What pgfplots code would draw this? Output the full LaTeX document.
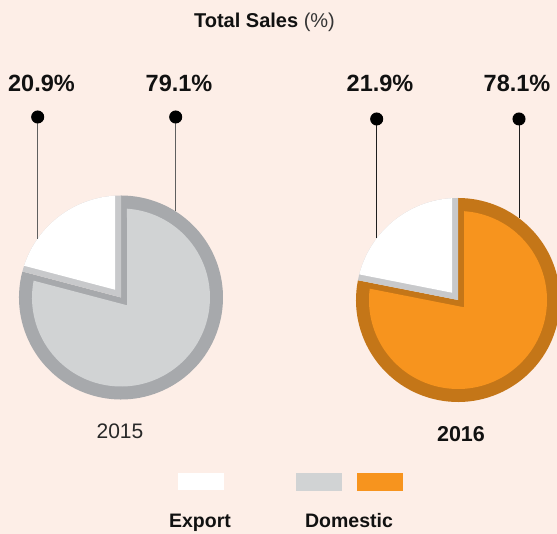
\documentclass[border=0pt]{standalone}
\usepackage{pgfplots}
\usepackage{pgfplotstable}
\pgfplotsset{compat=1.18}
\usepackage{fontspec}
\setmainfont{Liberation Sans}
\definecolor{bg}{RGB}{253,238,231}
\definecolor{grayfill}{RGB}{209,211,212}
\definecolor{grayborder}{RGB}{167,169,172}
\definecolor{band}{RGB}{200,201,203}
\definecolor{orangefill}{RGB}{247,148,30}
\definecolor{orangeborder}{RGB}{196,118,24}
\definecolor{txt}{RGB}{17,17,17}
\newcommand\fs[1]{\fontsize{#1}{#1}\selectfont}

\pgfplotstableread{
year export domestic
2015 20.9 79.1
2016 21.9 78.1
}\salesdata
\pgfplotstablegetelem{0}{export}\of\salesdata \let\expA\pgfplotsretval
\pgfplotstablegetelem{0}{domestic}\of\salesdata \let\domA\pgfplotsretval
\pgfplotstablegetelem{1}{export}\of\salesdata \let\expB\pgfplotsretval
\pgfplotstablegetelem{1}{domestic}\of\salesdata \let\domB\pgfplotsretval

% geometry (pt = px)
\def\Rout{102}\def\Rin{89}\def\band{6}
\pgfmathsetmacro\dIn{asin(\band/\Rin)}
\pgfmathsetmacro\dOut{asin(\band/\Rout)}
% pie A
\pgfmathsetmacro\aA{90+3.6*\expA}
\pgfmathsetmacro\bisDA{\aA+(450-\aA)/2}
\pgfmathsetmacro\distDA{\band/sin((450-\aA)/2)}
\pgfmathsetmacro\bisEA{90+(\aA-90)/2}
\pgfmathsetmacro\distEA{\band/sin((\aA-90)/2)}
% pie B
\pgfmathsetmacro\aB{90+3.6*\expB}
\pgfmathsetmacro\bisDB{\aB+(450-\aB)/2}
\pgfmathsetmacro\distDB{\band/sin((450-\aB)/2)}
\pgfmathsetmacro\bisEB{90+(\aB-90)/2}
\pgfmathsetmacro\distEB{\band/sin((\aB-90)/2)}

% #1 cx, #2 cy, #3 split angle, #4 bisD, #5 distD, #6 bisE, #7 distE, #8 fill, #9 border
\newcommand\drawpie[9]{%
  \fill[#9] (axis cs:#1,#2) -- ++(#3:\Rout pt) arc[start angle=#3, end angle=450, radius=\Rout pt] -- cycle;
  \fill[#8] ([shift={(#4:#5pt)}]axis cs:#1,#2) -- ([shift={({#3+\dIn}:\Rin pt)}]axis cs:#1,#2)
     arc[start angle={#3+\dIn}, end angle={450-\dIn}, radius=\Rin pt] -- cycle;
  \fill[band] (axis cs:#1,#2) -- ++(90:\Rout pt) arc[start angle=90, end angle=#3, radius=\Rout pt] -- cycle;
  \fill[white] ([shift={(#6:#7pt)}]axis cs:#1,#2) -- ([shift={({90+\dOut}:\Rout pt)}]axis cs:#1,#2)
     arc[start angle={90+\dOut}, end angle={#3-\dOut}, radius=\Rout pt] -- cycle;
}

\begin{document}
\begin{tikzpicture}
\begin{axis}[
  scale only axis, width=557pt, height=534pt,
  xmin=0, xmax=557, ymin=0, ymax=534,
  hide axis,
]
\fill[bg] (axis cs:0,0) rectangle (axis cs:557,534);

\drawpie{121}{236.5}{\aA}{\bisDA}{\distDA}{\bisEA}{\distEA}{grayfill}{grayborder}
\drawpie{458}{234}{\aB}{\bisDB}{\distDB}{\bisEB}{\distEB}{orangefill}{orangeborder}

% leader lines with dots
\addplot[color={rgb,255:red,95;green,95;blue,95}, line width=1pt, mark=*, mark size=6pt, mark indices={1},
  mark options={fill=black, draw=black}] coordinates {(37.7,417) (37.7,295.4)};
\addplot[color={rgb,255:red,95;green,95;blue,95}, line width=1pt, mark=*, mark size=6pt, mark indices={1},
  mark options={fill=black, draw=black}] coordinates {(175.7,417) (175.7,322.6)};
\addplot[color={rgb,255:red,30;green,30;blue,30}, line width=1pt, mark=*, mark size=6pt, mark indices={1},
  mark options={fill=black, draw=black}] coordinates {(376.7,415) (376.7,295.6)};
\addplot[color={rgb,255:red,30;green,30;blue,30}, line width=1pt, mark=*, mark size=6pt, mark indices={1},
  mark options={fill=black, draw=black}] coordinates {(519,415) (519,315.7)};

% labels
\node[anchor=base, inner sep=0, text=txt] at (axis cs:264.5,506) {\fs{20}\textbf{Total Sales} {\color{txt!85}(\%)}};
\node[anchor=base, inner sep=0, text=txt] at (axis cs:41.5,442) {\fs{23.5}\bfseries \expA\%};
\node[anchor=base, inner sep=0, text=txt] at (axis cs:179,442) {\fs{23.5}\bfseries \domA\%};
\node[anchor=base, inner sep=0, text=txt] at (axis cs:380,442) {\fs{23.5}\bfseries \expB\%};
\node[anchor=base, inner sep=0, text=txt] at (axis cs:517,442) {\fs{23.5}\bfseries \domB\%};
\node[anchor=base, inner sep=0, text={rgb,255:red,40;green,40;blue,40}] at (axis cs:120,95) {\fs{21}2015};
\node[anchor=base, inner sep=0, text=txt] at (axis cs:461,92) {\fs{21.5}\bfseries 2016};

% legend
\fill[white] (axis cs:178,61) rectangle (axis cs:224,44);
\fill[grayfill] (axis cs:296,61) rectangle (axis cs:342,43);
\fill[orangefill] (axis cs:357,61) rectangle (axis cs:403,43);
\node[anchor=base, inner sep=0, text=txt] at (axis cs:200,6) {\fs{19.5}\bfseries Export};
\node[anchor=base, inner sep=0, text=txt] at (axis cs:349,6) {\fs{19.5}\bfseries Domestic};
\end{axis}
\pgfresetboundingbox
\path[use as bounding box] (current axis.south west) rectangle (current axis.north east);
\end{tikzpicture}
\end{document}
